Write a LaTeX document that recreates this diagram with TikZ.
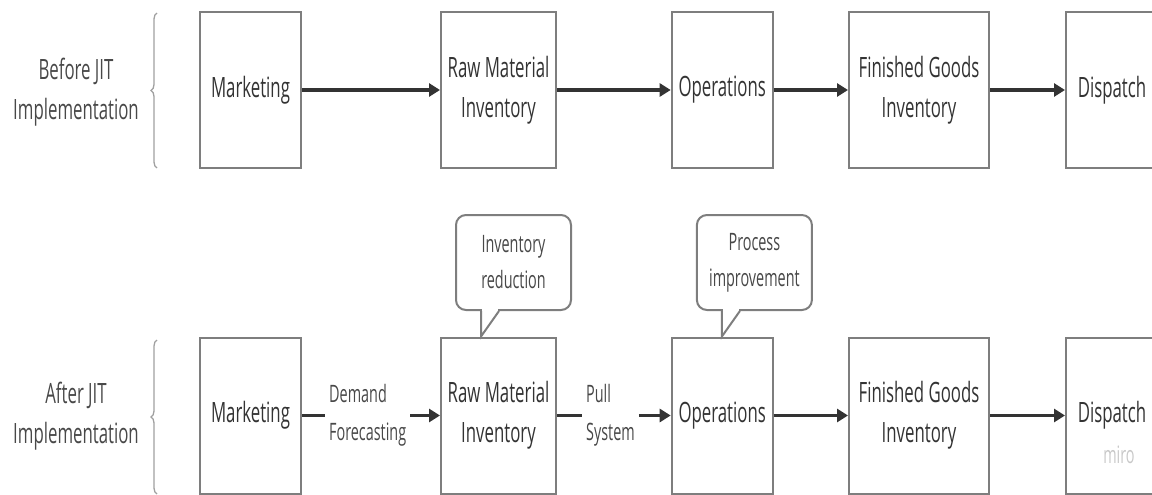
\documentclass[tikz,border=0pt]{standalone}
\usepackage{fontspec}
\setmainfont[FakeStretch=0.6]{Open Sans}
\usetikzlibrary{arrows.meta,decorations.pathreplacing,calc}
\definecolor{boxgray}{HTML}{7E7E7E}
\definecolor{arr}{HTML}{333333}
\definecolor{txt}{HTML}{333333}
\definecolor{lbl}{HTML}{484848}
\definecolor{bracegray}{HTML}{A0A0A0}
\definecolor{mirogray}{HTML}{C8C8C8}
\begin{document}
\begin{tikzpicture}[x=1pt,y=-1pt,
  box/.style={draw=boxgray, line width=2pt, minimum height=156pt, inner sep=0pt,
    text=txt, font=\fontsize{28}{40}\selectfont, align=center},
  conn/.style={draw=arr, line width=3.4pt, -{Triangle[length=11pt,width=13pt]}},
  plain/.style={draw=arr, line width=3.4pt},
  side/.style={text=lbl, font=\fontsize{28}{40}\selectfont, align=center},
  arrlbl/.style={text=lbl, font=\fontsize{24}{38}\selectfont, align=left, anchor=west, inner xsep=4pt, inner ysep=0pt},
  callout/.style={draw=boxgray, line width=2pt, rounded corners=10pt, fill=white,
    minimum width=115pt, minimum height=95pt, inner sep=0pt,
    text=lbl, font=\fontsize{24}{36}\selectfont, align=center},
  tail/.style={draw=boxgray, line width=2pt, line join=miter},
  brc/.style={draw=bracegray, line width=1.3pt, decorate, decoration={brace, amplitude=6pt}}
]
\useasboundingbox (0,0) rectangle (1152,495);
\clip (0,0) rectangle (1152,495);

% side labels
\node[side] (before) at (76,92) {Before JIT\\Implementation};
\node[side] (after) at (76,416) {After JIT\\Implementation};
\draw[brc] (157,168) -- (157,13);
\draw[brc] (157,494) -- (157,340);

% top row
\node[box, minimum width=101pt] (mkt1) at (250.5,90) {Marketing};
\node[box, minimum width=115pt] (raw1) at (498.5,90) {Raw Material\\Inventory};
\node[box, minimum width=101pt] (ops1) at (722.2,90) {Operations};
\node[box, minimum width=140pt] (fg1) at (919,90) {Finished Goods\\Inventory};
\node[box, minimum width=92pt] (dis1) at (1112,90) {Dispatch};
\draw[conn] (mkt1) -- (raw1);
\draw[conn] (raw1) -- (ops1);
\draw[conn] (ops1) -- (fg1);
\draw[conn] (fg1) -- (dis1);

% bottom row
\node[box, minimum width=101pt] (mkt2) at (250.5,415.5) {Marketing};
\node[box, minimum width=115pt] (raw2) at (498.5,415.5) {Raw Material\\Inventory};
\node[box, minimum width=101pt] (ops2) at (722.2,415.5) {Operations};
\node[box, minimum width=140pt] (fg2) at (919,415.5) {Finished Goods\\Inventory};
\node[box, minimum width=92pt] (dis2) at (1112,415.5) {Dispatch};

\node[arrlbl] (demand) at (325,415.5) {Demand\\Forecasting};
\node[arrlbl] (pull) at (582,415.5) {Pull\\System};
\draw[plain] (mkt2.east) -- (demand.west);
\draw[conn] (demand.east) -- (raw2.west);
\draw[plain] (raw2.east) -- (pull.west);
\draw[conn] (pull.east) -- (ops2.west);
\draw[conn] (ops2) -- (fg2);
\draw[conn] (fg2) -- (dis2);

% callouts
\node[callout] (invred) at (513.5,262.5) {Inventory\\reduction};
\coordinate (t1a) at ($(invred.south west)+(26,0)$);
\coordinate (t1b) at ($(invred.south west)+(44,0)$);
\coordinate (t1c) at (t1a |- raw2.north);
\fill[white] ($(t1a)+(1,-4)$) rectangle ($(t1b)+(-1,3)$);
\draw[tail] (t1a) -- (t1c) -- (t1b);

\node[callout] (procimp) at (754.4,262.5) {Process\\improvement};
\coordinate (t2a) at ($(procimp.south west)+(26,0)$);
\coordinate (t2b) at ($(procimp.south west)+(44,0)$);
\coordinate (t2c) at (t2a |- ops2.north);
\fill[white] ($(t2a)+(1,-4)$) rectangle ($(t2b)+(-1,3)$);
\draw[tail] (t2a) -- (t2c) -- (t2b);

\node[text=mirogray, font=\fontsize{24}{24}\selectfont] (miro) at (1119,455) {miro};
\end{tikzpicture}
\end{document}
